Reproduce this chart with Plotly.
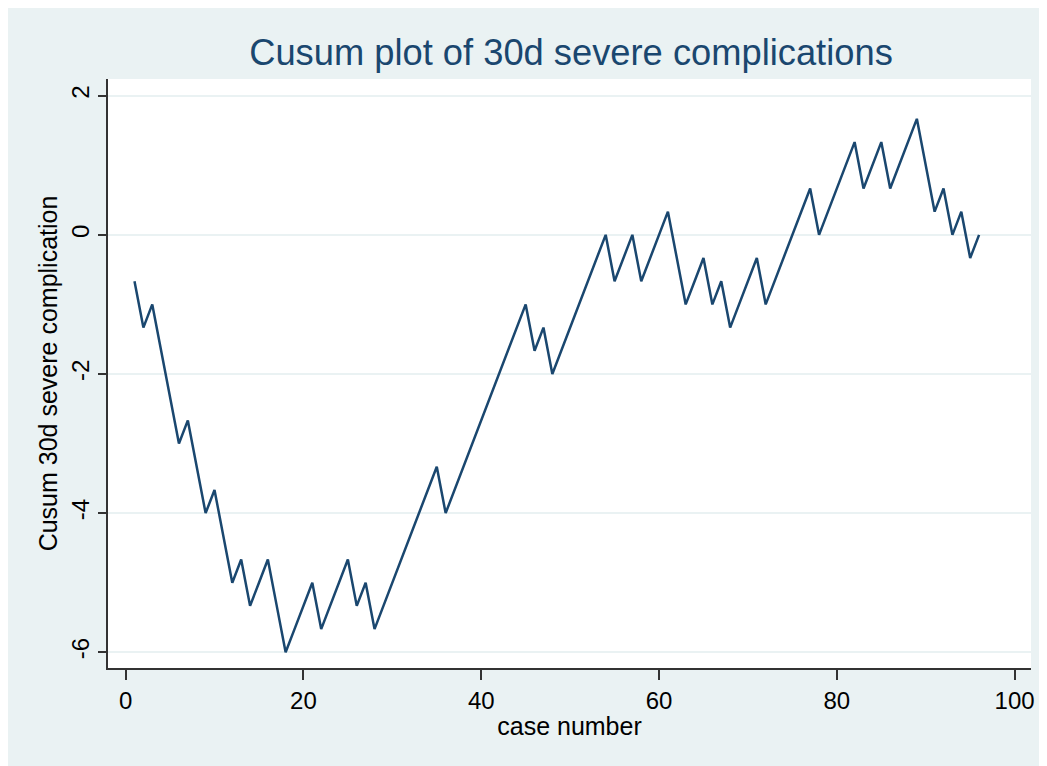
import plotly.graph_objects as go

case_number = list(range(1, 97))
cusum = [
    -0.667, -1.333, -1.0, -1.667, -2.333, -3.0, -2.667, -3.333, -4.0, -3.667,
    -4.333, -5.0, -4.667, -5.333, -5.0, -4.667, -5.333, -6.0, -5.667, -5.333,
    -5.0, -5.667, -5.333, -5.0, -4.667, -5.333, -5.0, -5.667, -5.333, -5.0,
    -4.667, -4.333, -4.0, -3.667, -3.333, -4.0, -3.667, -3.333, -3.0, -2.667,
    -2.333, -2.0, -1.667, -1.333, -1.0, -1.667, -1.333, -2.0, -1.667, -1.333,
    -1.0, -0.667, -0.333, 0.0, -0.667, -0.333, 0.0, -0.667, -0.333, 0.0,
    0.333, -0.333, -1.0, -0.667, -0.333, -1.0, -0.667, -1.333, -1.0, -0.667,
    -0.333, -1.0, -0.667, -0.333, 0.0, 0.333, 0.667, 0.0, 0.333, 0.667,
    1.0, 1.333, 0.667, 1.0, 1.333, 0.667, 1.0, 1.333, 1.667, 1.0,
    0.333, 0.667, 0.0, 0.333, -0.333, 0.0,
]
x_ticks = [0, 20, 40, 60, 80, 100]
y_ticks = [-6, -4, -2, 0, 2]
y_tick_labels = ["-6", "-4", "-2", "0", "2"]
title_text = "Cusum plot of 30d severe complications"
x_title = "case number"
y_title = "Cusum 30d severe complication"

NAVY = "#1A476F"
BG = "#EAF2F3"
FONT = "Liberation Sans, Arial, Helvetica, sans-serif"

fig = go.Figure()
fig.add_trace(go.Scatter(
    x=case_number, y=cusum, mode="lines",
    line=dict(color=NAVY, width=2.5), showlegend=False, hoverinfo="x+y",
))

# page body adds an 8px white margin on the left/top
OFF = 8
W, H = 1047 - OFF, 766 - OFF
L, R, T, B = 108 - OFF, 14, 79 - OFF, 98

fig.update_layout(
    width=W, height=H,
    margin=dict(l=L, r=R, t=T, b=B, pad=0),
    paper_bgcolor=BG, plot_bgcolor="white",
    font=dict(family=FONT, color="black", size=24),
    title=dict(text=title_text, x=(571 - OFF) / W, xanchor="center",
               y=1 - (52 - OFF) / H, yanchor="middle",
               font=dict(family=FONT, size=36.3, color=NAVY)),
    xaxis=dict(
        range=[-1.98, 101.84], tickvals=x_ticks, ticks="outside", ticklen=10,
        tickwidth=1.5, tickcolor="#333333", showline=True, linecolor="#333333",
        linewidth=1.5, showgrid=False, zeroline=False,
        tickfont=dict(size=24, color="black"),
        title=dict(text=x_title, standoff=5, font=dict(size=25, color="black")),
    ),
    yaxis=dict(
        range=[-6.226, 2.24], tickvals=y_ticks, ticktext=y_tick_labels,
        ticks="outside", ticklen=8,
        tickwidth=1.5, tickcolor="#333333", showline=True, linecolor="#333333",
        linewidth=1.5, showgrid=True, gridcolor=BG, gridwidth=1.5, zeroline=False,
        tickangle=-90, tickfont=dict(size=24, color="black"),
        title=dict(text=y_title, standoff=2, font=dict(size=25, color="black")),
    ),
)

fig.write_html("out.html")
